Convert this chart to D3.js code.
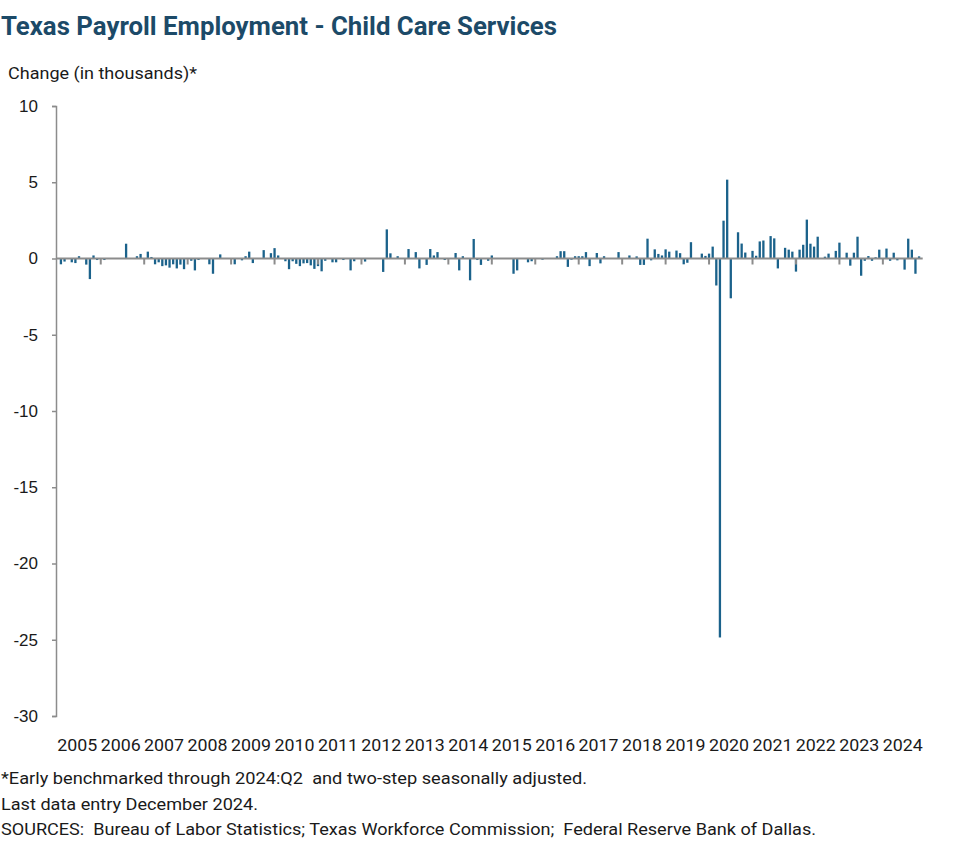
<!DOCTYPE html>
<html>
<head>
<meta charset="utf-8">
<script src="https://cdn.jsdelivr.net/npm/d3@7"></script>
<style>
  html, body { margin: 0; padding: 0; background: #ffffff; }
  svg { display: block; }
</style>
</head>
<body>
<div id="chart"></div>
<script>
// ---------- DATA ----------
const title = "Texas Payroll Employment - Child Care Services";
const yAxisTitle = "Change (in thousands)*";
const yTicks = [10, 5, 0, -5, -10, -15, -20, -25, -30];
const yTickLabels = ["10", "5", "0", "-5", "-10", "-15", "-20", "-25", "-30"];
const yearLabels = ["2005","2006","2007","2008","2009","2010","2011","2012","2013","2014",
                    "2015","2016","2017","2018","2019","2020","2021","2022","2023","2024"];
// Monthly change, thousands, Jan 2005 .. Dec 2024 (12 values per year)
const v2005 = [0, -0.38, -0.2, 0, -0.25, -0.3, 0.15, 0, -0.4, -1.35, 0.2, -0.1];
const v2006 = [0, -0.1, 0, 0, 0, 0, 0, 0.97, 0, 0, 0.15, 0.3];
const v2007 = [0, 0.45, 0.1, -0.38, -0.25, -0.5, -0.45, -0.6, -0.38, -0.65, -0.4, -0.7];
const v2008 = [0, -0.15, -0.78, -0.1, 0, 0, -0.38, -1.0, 0, 0.27, 0, 0];
const v2009 = [0, -0.38, 0, -0.12, 0.15, 0.45, -0.3, 0, 0, 0.55, 0, 0.35];
const v2010 = [0.68, 0.2, 0, -0.18, -0.7, -0.18, -0.35, -0.5, -0.32, -0.3, -0.45, -0.68];
const v2011 = [-0.5, -0.84, -0.15, 0, -0.25, -0.25, 0, -0.1, 0, -0.78, -0.18, 0];
const v2012 = [0, -0.2, 0, 0, 0, 0, -0.88, 1.91, 0.34, 0, 0.15, 0];
const v2013 = [0, 0.62, 0, 0.42, -0.65, 0, -0.42, 0.62, 0.2, 0.42, 0, -0.1];
const v2014 = [0, 0, 0.36, -0.78, 0.15, 0, -1.43, 1.28, -0.1, -0.42, 0, -0.15];
const v2015 = [0.2, 0, 0, 0, 0, 0, -1.0, -0.78, 0, 0, -0.25, -0.18];
const v2016 = [0, 0, -0.08, 0, 0, 0, 0.15, 0.48, 0.48, -0.55, -0.08, 0.15];
const v2017 = [0.15, 0.15, 0.42, -0.5, 0, 0.36, -0.32, 0.15, 0, 0, 0, 0.42];
const v2018 = [0, 0, 0.2, 0, 0.14, -0.42, -0.42, 1.3, -0.12, 0.6, 0.3, 0.2];
const v2019 = [0.6, 0.45, 0, 0.52, 0.35, -0.38, -0.28, 1.07, 0, 0, 0.32, 0.17];
const v2020 = [0.32, 0.78, -1.77, -24.85, 2.48, 5.17, -2.61, 0, 1.72, 0.98, 0.39, 0];
const v2021 = [0.5, 0.18, 1.12, 1.18, 0, 1.47, 1.32, -0.65, 0, 0.7, 0.58, 0.45];
const v2022 = [-0.86, 0.58, 0.9, 2.55, 0.97, 0.78, 1.43, 0, 0.12, 0.32, 0, 0.5];
const v2023 = [1.04, 0, 0.38, -0.47, 0.38, 1.43, -1.13, -0.15, 0.16, -0.15, 0.08, 0.58];
const v2024 = [0, 0.65, -0.15, 0.38, -0.12, 0, -0.73, 1.3, 0.58, -1.0, 0.14, 0];
const footnotes = [
  "*Early benchmarked through 2024:Q2  and two-step seasonally adjusted.",
  "Last data entry December 2024.",
  "SOURCES:  Bureau of Labor Statistics; Texas Workforce Commission;  Federal Reserve Bank of Dallas."
];

const values = [].concat(v2005, v2006, v2007, v2008, v2009, v2010, v2011, v2012, v2013, v2014,
                         v2015, v2016, v2017, v2018, v2019, v2020, v2021, v2022, v2023, v2024);

// ---------- LAYOUT ----------
const W = 977, H = 864;
const plotLeft = 57.3, plotRight = 922.7, plotTop = 106, plotBottom = 716;
const axisX = 56;
const barColor = "#1b628b";
const axisColor = "#8c8c8c";
const titleColor = "#1c4a68";
const font = "Roboto, 'Liberation Sans', Arial, sans-serif";

const svg = d3.select("#chart").append("svg")
  .attr("width", W).attr("height", H);

const x = d3.scaleLinear().domain([0, values.length - 1]).range([plotLeft, plotRight]);
const y = d3.scaleLinear().domain([-30, 10]).range([plotBottom, plotTop]);

// Title
svg.append("text")
  .attr("x", 1).attr("y", 35)
  .attr("font-family", font).attr("font-weight", 700).attr("font-size", 26)
  .attr("fill", titleColor)
  .attr("textLength", 556).attr("lengthAdjust", "spacingAndGlyphs")
  .text(title);

// Y-axis title
svg.append("text")
  .attr("x", 8).attr("y", 79)
  .attr("font-family", font).attr("font-size", 16.5)
  .attr("fill", "#1a1a1a")
  .attr("textLength", 189).attr("lengthAdjust", "spacingAndGlyphs")
  .text(yAxisTitle);

// Bars
const bw = 2.3;
svg.append("g").selectAll("rect")
  .data(values)
  .join("rect")
  .attr("x", (d, i) => x(i) - bw / 2)
  .attr("y", d => d >= 0 ? y(d) : y(0))
  .attr("width", bw)
  .attr("height", d => Math.abs(y(d) - y(0)))
  .attr("fill", barColor);

// Y axis
const yAxis = d3.axisLeft(y).tickValues(yTicks).tickSize(4).tickPadding(14)
  .tickFormat((d, i) => yTickLabels[i]);
const gy = svg.append("g").attr("transform", `translate(${axisX},0)`).call(yAxis);
gy.select(".domain").attr("stroke", axisColor).attr("stroke-width", 1.5);
gy.selectAll(".tick line").attr("stroke", axisColor).attr("stroke-width", 1.5);
gy.selectAll(".tick text")
  .attr("font-family", "'Liberation Sans', Arial, sans-serif").attr("font-size", 17).attr("fill", "#1a1a1a");

// Zero line (category axis)
svg.append("line")
  .attr("x1", axisX).attr("x2", plotRight)
  .attr("y1", y(0)).attr("y2", y(0))
  .attr("stroke", axisColor).attr("stroke-width", 2);

// Year ticks
const yearTickIdx = d3.range(1, yearLabels.length).map(k => k * 12);
svg.append("g").selectAll("line")
  .data(yearTickIdx)
  .join("line")
  .attr("x1", d => x(d)).attr("x2", d => x(d))
  .attr("y1", y(0)).attr("y2", y(0) + 6)
  .attr("stroke", axisColor).attr("stroke-width", 2);

// Year labels
svg.append("g").selectAll("text")
  .data(yearLabels)
  .join("text")
  .attr("x", (d, k) => x(k * 12 + 5.5))
  .attr("y", 751)
  .attr("text-anchor", "middle")
  .attr("font-family", font).attr("font-size", 17)
  .attr("fill", "#1a1a1a")
  .attr("textLength", 40).attr("lengthAdjust", "spacingAndGlyphs")
  .text(d => d);

// Footnotes
const fnWidths = [586, 257, 815];
svg.append("g").selectAll("text")
  .data(footnotes)
  .join("text")
  .attr("x", 1)
  .attr("y", (d, i) => 784 + i * 25.5)
  .attr("font-family", font).attr("font-size", 17)
  .attr("fill", "#1a1a1a")
  .attr("textLength", (d, i) => fnWidths[i]).attr("lengthAdjust", "spacingAndGlyphs")
  .style("white-space", "pre")
  .text(d => d);
</script>
</body>
</html>
